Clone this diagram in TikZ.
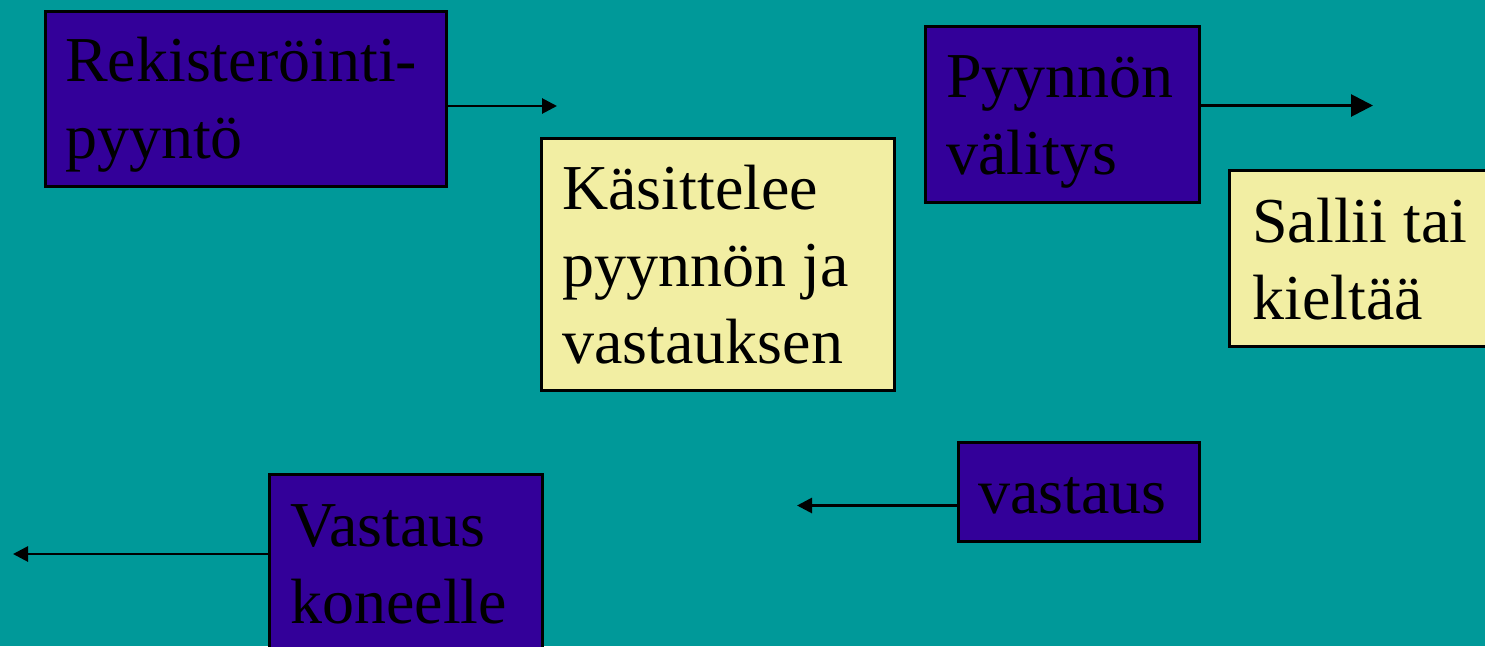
\documentclass[tikz,border=0pt]{standalone}
\usepackage{fontspec}
\setmainfont{Liberation Serif}
\usetikzlibrary{arrows.meta}
\definecolor{bg}{RGB}{0,153,153}
\definecolor{dark}{RGB}{51,0,153}
\definecolor{pale}{RGB}{242,238,163}
\begin{document}
\begin{tikzpicture}[x=1pt,y=-1pt,
  darkbox/.style={draw=black, line width=3pt, fill=dark, inner sep=0pt, anchor=north west},
  palebox/.style={draw=black, line width=3pt, fill=pale, inner sep=0pt, anchor=north west},
  txt/.style={anchor=north west, inner sep=0pt, align=left, font=\fontsize{64}{76.8}\selectfont, text=black},
  arr/.style={line width=2.8pt, -{Triangle[length=15pt,width=15pt]}},
  bigarr/.style={line width=2.8pt, -{Triangle[length=22pt,width=22pt]}}]
\useasboundingbox (0,0) rectangle (1485,646);
\fill[bg] (0,0) rectangle (1485,646);
\clip (0,0) rectangle (1485,646);
% boxes
\node[darkbox, minimum width=401pt, minimum height=175pt] (b1) at (44,10) {};
\node[palebox, minimum width=353pt, minimum height=252pt] (y1) at (540,137) {};
\node[darkbox, minimum width=274pt, minimum height=176pt] (b2) at (924,25) {};
\node[palebox, minimum width=270pt, minimum height=176pt] (y2) at (1228,169) {};
\node[darkbox, minimum width=241pt, minimum height=99pt] (b3) at (957,441) {};
\node[darkbox, minimum width=273pt, minimum height=200pt] (b4) at (268,473) {};
% texts
\node[txt] (t1) at (65,28) {\strut Rekisteröinti-\\pyyntö};
\node[txt] (t2) at (562,156) {\strut Käsittelee\\pyynnön ja\\vastauksen};
\node[txt] (t3) at (946,44) {\strut Pyynnön\\välitys};
\node[txt] (t4) at (1252,189) {\strut Sallii tai\\kieltää};
\node[txt] (t5) at (978,459.5) {\strut vastaus};
\node[txt] (t6) at (290,493) {\strut Vastaus\\koneelle};
% arrows
\coordinate (a1) at (557,106);
\coordinate (a2) at (1373,105.5);
\coordinate (a3) at (797,505.5);
\coordinate (a4) at (13,554);
\draw[arr] (b1.east |- a1) -- (a1);
\draw[bigarr] (b2.east |- a2) -- (a2);
\draw[arr] (b3.west |- a3) -- (a3);
\draw[arr] (b4.west |- a4) -- (a4);
\end{tikzpicture}
\end{document}
